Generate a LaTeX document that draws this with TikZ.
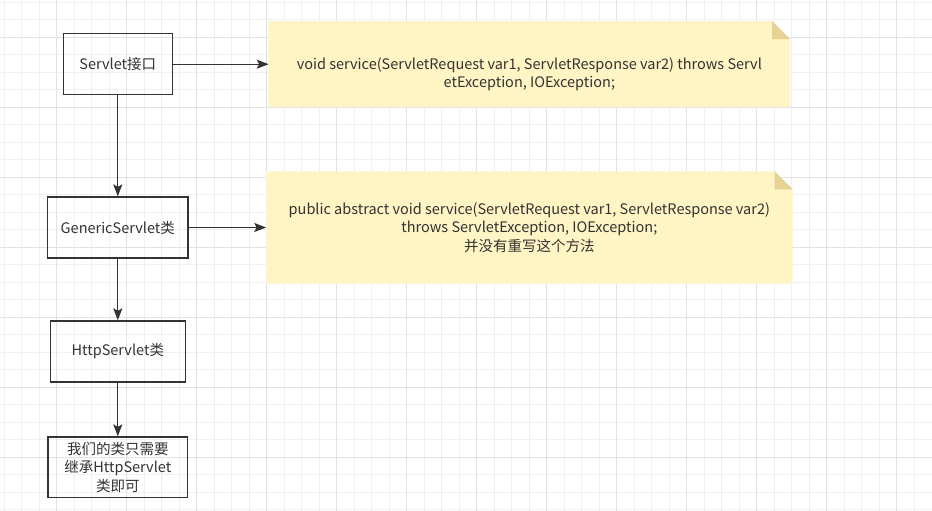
\documentclass[tikz,border=0pt]{standalone}
\usepackage{fontspec}
\setmainfont{Noto Sans CJK SC}
\usepackage{tikz}
\usetikzlibrary{positioning,arrows.meta,backgrounds}
\definecolor{linegray}{HTML}{333333}
\definecolor{notefill}{HTML}{FFF4C3}
\definecolor{notefold}{HTML}{E5D394}
\definecolor{gridminor}{HTML}{F0F0F0}
\definecolor{gridmajor}{HTML}{E2E2E2}
\pgfdeclarelayer{gridlayer}
\pgfsetlayers{gridlayer,background,main}

\begin{document}
\begin{tikzpicture}[x=1pt,y=-1pt,font=\fontsize{14.5}{18.5}\selectfont,
  classbox/.style={rectangle,draw=linegray,line width=1.3pt,text=linegray,minimum height=61pt,align=center,inner sep=2pt},
  notebox/.style={rectangle,text=linegray,align=center,inner sep=0pt},
  link/.style={draw=linegray,line width=1.3pt,-{Stealth[length=12pt,width=9pt,inset=2.5pt]}}]
  \useasboundingbox (0,0) rectangle (932,511);

  % Nodes
  \node[classbox,minimum width=109pt] (servlet) at (117.8,64.2) {Servlet接口};
  \node[classbox,minimum width=140.4pt,below=101pt of servlet] (generic) {GenericServlet类};
  \node[classbox,minimum width=135.3pt,below=61.7pt of generic] (http) {HttpServlet类};
  \node[classbox,minimum width=139.4pt,minimum height=60.3pt,below=53.7pt of http] (ours) {我们的类只需要\\继承HttpServlet\\类即可};
  \node[notebox,minimum width=521pt,minimum height=85.5pt,right=95.7pt of servlet] (sig) {\rule{0pt}{13pt}\\void service(ServletRequest var1, ServletResponse var2) throws Servl\\etException, IOException;};
  \node[notebox,minimum width=526pt,minimum height=112pt,right=77.5pt of generic] (abs) {public abstract void service(ServletRequest var1, ServletResponse var2)\\throws ServletException, IOException;\\并没有重写这个方法};

  % Arrows
  \draw[link] (servlet) -- (generic);
  \draw[link] (generic) -- (http);
  \draw[link] (http) -- (ours);
  \draw[link] (servlet.east) -- (sig.west);
  \draw[link] (generic.east) -- (abs.west);

  % Note paper with folded corner
  \begin{scope}[on background layer]
    \foreach \n in {sig,abs} {
      \fill[notefill] (\n.south west) -- (\n.north west) -- ([xshift=-18pt]\n.north east) -- ([yshift=-18pt]\n.north east) -- (\n.south east) -- cycle;
      \fill[notefold] ([xshift=-18pt]\n.north east) -- ([xshift=-18pt,yshift=-18pt]\n.north east) -- ([yshift=-18pt]\n.north east) -- cycle;
    }
  \end{scope}

  % Grid
  \begin{pgfonlayer}{gridlayer}
    \fill[white] (0,0) rectangle (932,511);
    \foreach \i in {0,...,52} \draw[gridminor,line width=1pt] ({4.17+17.5*\i},0) -- ++(0,511);
    \foreach \i in {0,...,29} \draw[gridminor,line width=1pt] (0,{2.3+17.5*\i}) -- ++(932,0);
    \foreach \i in {0,...,12} \draw[gridmajor,line width=1pt] ({56.67+70*\i},0) -- ++(0,511);
    \foreach \i in {0,...,6} \draw[gridmajor,line width=1pt] (0,{37.3+70*\i}) -- ++(932,0);
  \end{pgfonlayer}
\end{tikzpicture}
\end{document}
